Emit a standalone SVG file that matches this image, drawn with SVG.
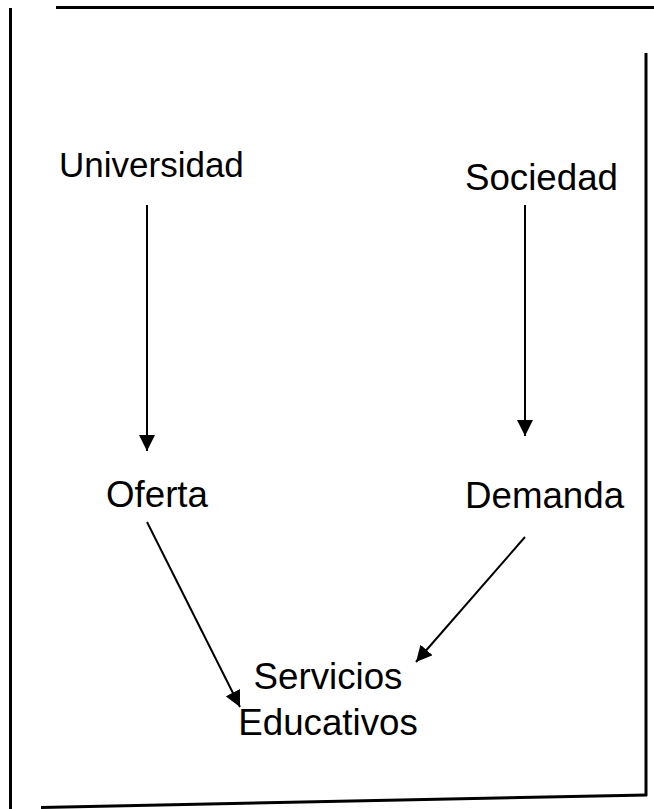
<svg xmlns="http://www.w3.org/2000/svg" width="654" height="809" viewBox="0 0 654 809">
<style>
.lbl{font-family:"Liberation Sans",Arial,sans-serif;font-size:36.7px;fill:#000}
.frame{stroke:#000;stroke-width:3;fill:none}
.conn{stroke:#000;stroke-width:2;fill:none}
</style>
<defs>
<marker id="ah" markerUnits="userSpaceOnUse" markerWidth="16" markerHeight="16" viewBox="0 0 16 16" refX="16" refY="8" orient="auto">
<path d="M0,0 L16,8 L0,16 Z" fill="#000"/>
</marker>
</defs>
<rect width="654" height="809" fill="#fff"/>
<g id="frame">
<line class="frame" x1="56" y1="7.5" x2="654" y2="7.5"/>
<line class="frame" x1="10.5" y1="8" x2="10.5" y2="809"/>
<line class="frame" x1="646" y1="53" x2="646" y2="796"/>
<line class="frame" x1="41" y1="807.5" x2="647" y2="795"/>
</g>
<g id="connectors">
<line class="conn" x1="147" y1="205" x2="147" y2="451" marker-end="url(#ah)"/>
<line class="conn" x1="525" y1="205" x2="525" y2="436" marker-end="url(#ah)"/>
<line class="conn" x1="147" y1="522" x2="240" y2="707" marker-end="url(#ah)"/>
<line class="conn" x1="525" y1="537" x2="416" y2="662" marker-end="url(#ah)"/>
</g>
<g id="universidad"><text class="lbl" x="59" y="177" style="font-size:35px">Universidad</text></g>
<g id="sociedad"><text class="lbl" x="465" y="190">Sociedad</text></g>
<g id="oferta"><text class="lbl" x="106" y="507">Oferta</text></g>
<g id="demanda"><text class="lbl" x="465" y="508">Demanda</text></g>
<g id="servicios"><text class="lbl" text-anchor="middle"><tspan x="328" y="689">Servicios</tspan><tspan x="328" y="735">Educativos</tspan></text></g>
</svg>
